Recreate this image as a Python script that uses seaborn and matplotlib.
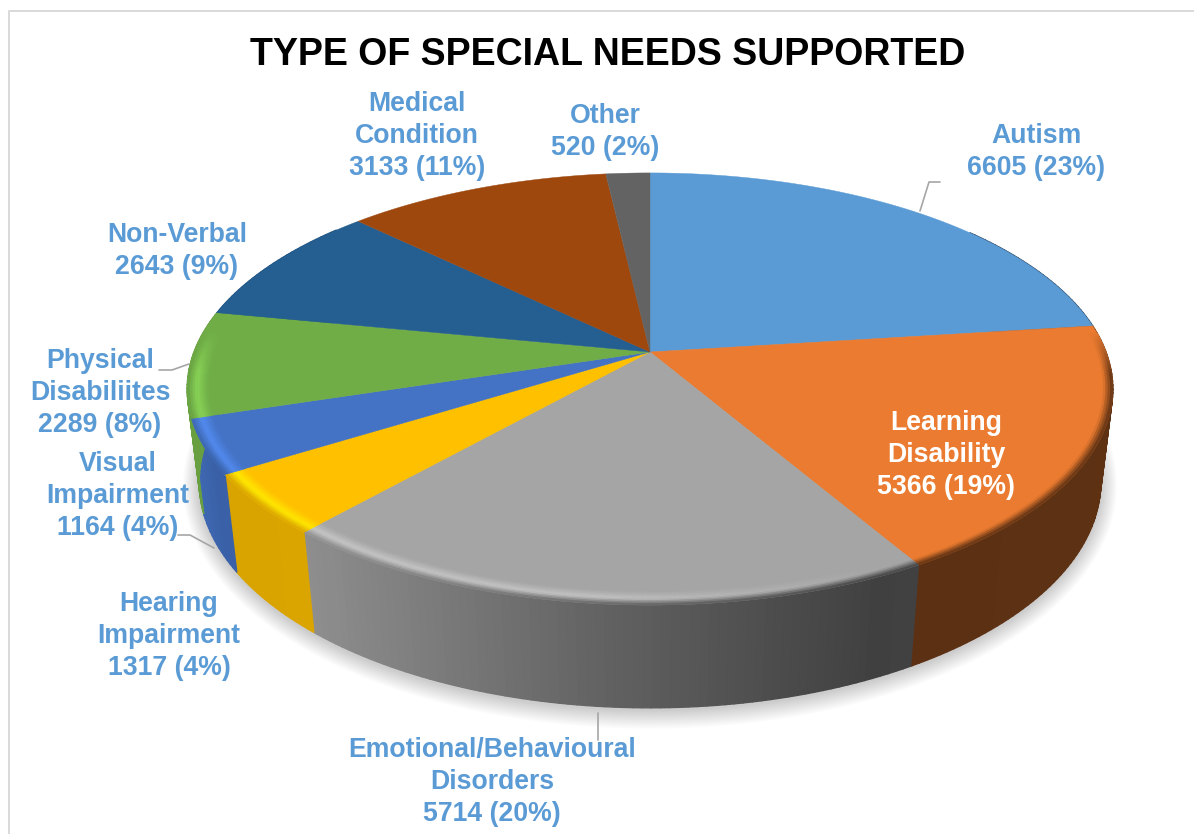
import matplotlib
matplotlib.use("Agg")
import matplotlib.pyplot as plt
from matplotlib.collections import PolyCollection
import numpy as np
import seaborn as sns

categories = [
    "Autism",
    "Learning\nDisability",
    "Emotional/Behavioural\nDisorders",
    "Hearing\nImpairment",
    "Visual\nImpairment",
    "Physical\nDisabiliites",
    "Non-Verbal",
    "Medical\nCondition",
    "Other",
]
counts = [6605, 5366, 5714, 1317, 1164, 2289, 2643, 3133, 520]
percents = [23, 19, 20, 4, 4, 8, 9, 11, 2]
slice_colors = ["#5b9bd5", "#ea7b30", "#a5a5a5", "#ffc000", "#4472c4",
                "#70ad47", "#255e91", "#9e480e", "#636363"]

# label centres in pixels
label_x = [1036, 946, 492, 169, 118, 100, 177, 417, 605]
label_y = [152, 455, 782, 636, 496, 393, 251, 136, 132]

# perspective of the pie, fitted to the picture
CX, CY = 650, 352
A, B, K = 456, 209.7, 0.171
VANISH_Y, DEPTH = 4000, 0.0259


def project(t, r=1.0):
    # t runs clockwise from 12 o'clock, degrees
    rad = np.radians(t)
    u, v = r * np.sin(rad), -r * np.cos(rad)
    w = 1 - K * v
    return CX + A * u / w, CY + B * v / w, w


def drop(x, y, w):
    lam = DEPTH / (w + DEPTH)
    return x + (CX - x) * lam, y + (VANISH_Y - y) * lam


def shade(color, f):
    rgb = np.array(matplotlib.colors.to_rgb(color))
    return np.clip(rgb * f, 0, 1)


sns.set_theme(style="white")
plt.rcParams["font.family"] = ["Liberation Sans", "DejaVu Sans"]
palette = sns.color_palette(slice_colors)

fig, ax = plt.subplots(figsize=(11.94, 8.34), dpi=100)
fig.subplots_adjust(0, 0, 1, 1)
ax.set_xlim(0, 1194)
ax.set_ylim(834, 0)
ax.axis("off")

# chart frame, only top and left show
ax.plot([9, 9, 1194], [834, 11, 11], color="#d9d9d9", lw=1.4, zorder=1)

fractions = np.array(counts) / sum(counts)
edges = np.concatenate([[0], np.cumsum(fractions)]) * 360

# soft shadow under the lower rim
ring = np.arange(0, 361, 2)
rx, ry, rw = project(ring)
lx, ly = drop(rx, ry, rw)
low_cx, low_cy = lx.mean(), ly.mean()
for grow in np.arange(17, 0, -1.0):
    sx = low_cx + (lx - low_cx) * (1 + grow / 470)
    sy = low_cy + (ly - low_cy) * (1 + grow / 220) + 2
    ax.fill(sx, sy, color="black", alpha=0.012, lw=0, zorder=2)

# side wall, back to front
side_f_x = [190, 215, 310, 600, 880, 1110]
side_f_y = [0.92, 0.85, 0.86, 0.6, 0.39, 0.4]
side_polys, side_cols = [], []
for i, col in enumerate(palette):
    ts = np.arange(edges[i], edges[i + 1], 1.0)
    for t in ts:
        t2 = min(t + 1.0, edges[i + 1])
        if 50 < t < 310:
            x1, y1, w1 = project(t)
            x2, y2, w2 = project(t2)
            bx1, by1 = drop(x1, y1, w1)
            bx2, by2 = drop(x2, y2, w2)
            side_polys.append([(x1, y1), (x2, y2), (bx2, by2), (bx1, by1)])
            side_cols.append(shade(col, np.interp(x1, side_f_x, side_f_y)))
ax.add_collection(PolyCollection(side_polys, facecolors=side_cols, edgecolors=side_cols,
                                 linewidths=1.0, zorder=3))

# top face
for i, col in enumerate(palette):
    ts = np.linspace(edges[i], edges[i + 1], 120)
    x, y, _ = project(ts)
    ax.fill(np.r_[CX, x], np.r_[CY, y], color=col, lw=0.3, zorder=4)

# bevel on the front part of the rim
radii = np.linspace(0.955, 1.0, 10)
hi_x = [190, 300, 600, 900, 1110]
hi_y = [1.22, 1.2, 1.18, 1.0, 1.0]
bevel_polys, bevel_cols = [], []
for i, col in enumerate(palette):
    top = np.array(col)
    for t in np.arange(edges[i], edges[i + 1], 0.5):
        t2 = min(t + 0.5, edges[i + 1])
        v = -np.cos(np.radians(t))
        weight = np.clip((v + 0.1) / 0.2, 0, 1)
        if weight == 0:
            continue
        x0, _, _ = project(t)
        side = shade(col, np.interp(x0, side_f_x, side_f_y))
        high = shade(col, np.interp(x0, hi_x, hi_y))
        for r1, r2 in zip(radii[:-1], radii[1:]):
            pos = (r1 + r2) / 2
            if pos < 0.98:
                c = top + (high - top) * (pos - 0.955) / 0.025
            else:
                c = high + (side - high) * (pos - 0.98) / 0.02
            c = top + (c - top) * weight
            xa, ya, _ = project(t, r1)
            xb, yb, _ = project(t2, r1)
            xc, yc, _ = project(t2, r2)
            xd, yd, _ = project(t, r2)
            bevel_polys.append([(xa, ya), (xb, yb), (xc, yc), (xd, yd)])
            bevel_cols.append(c)
ax.add_collection(PolyCollection(bevel_polys, facecolors=bevel_cols, edgecolors=bevel_cols,
                                 linewidths=0.5, zorder=5))

# leader lines
leader_color = "#a6a6a6"
ax.plot([920, 929, 940], [211, 182, 182], color=leader_color, lw=1.2, zorder=6)
ax.plot([159, 172, 189], [370, 370, 364], color=leader_color, lw=1.2, zorder=6)
ax.plot([178, 190, 214], [535, 535, 548], color=leader_color, lw=1.2, zorder=6)
ax.plot([598, 598], [713, 740], color=leader_color, lw=1.2, zorder=6)

ax.text(608, 55, "TYPE OF SPECIAL NEEDS SUPPORTED", ha="center", va="center",
        fontsize=27, fontweight="bold", color="black", zorder=7)

for i, name in enumerate(categories):
    text_color = "white" if name.startswith("Learning") else "#5b9bd5"
    ax.text(label_x[i], label_y[i], f"{name}\n{counts[i]} ({percents[i]}%)",
            ha="center", va="center", multialignment="center", fontsize=19.2,
            fontweight="bold", color=text_color, linespacing=1.31, zorder=7)

fig.savefig("out.png", dpi=100)
plt.close(fig)
